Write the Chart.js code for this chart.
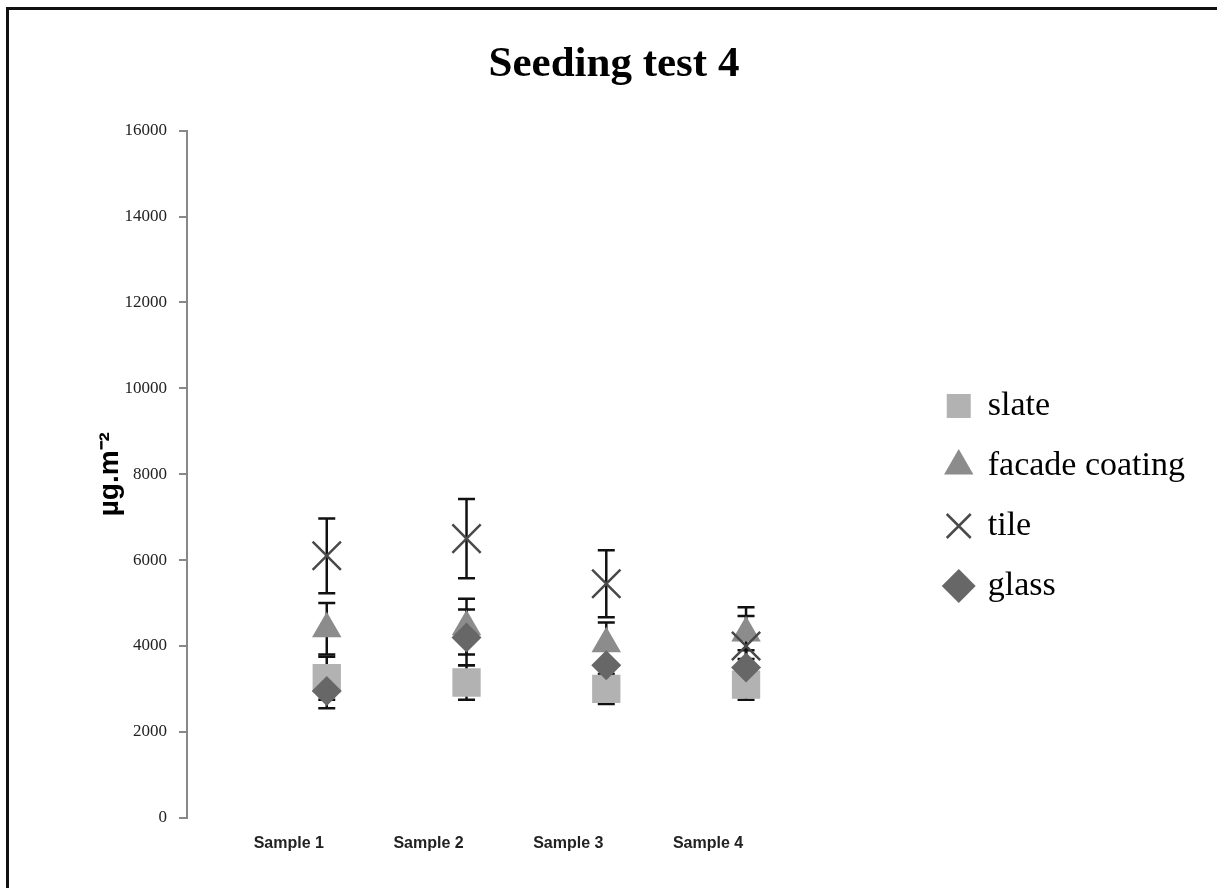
<!DOCTYPE html>
<html>
<head>
<meta charset="utf-8">
<script src="https://cdn.jsdelivr.net/npm/chart.js@4.4.1/dist/chart.umd.min.js"></script>
<style>
  body { margin: 0; background: #fff; }
  #wrap { position: relative; width: 1217px; height: 888px; }
  #frame { position: absolute; left: 6px; top: 7px; right: 0; bottom: 0;
           border-top: 3px solid #111; border-left: 3px solid #111; }
  canvas { position: absolute; left: 0; top: 0; }
</style>
</head>
<body>
<div id="wrap">
  <div id="frame"></div>
  <canvas id="seedChart" width="1217" height="888"></canvas>
</div>
<script>
// Proben (x-Achse)
const samples = ['Sample 1', 'Sample 2', 'Sample 3', 'Sample 4'];
const yTicks = [0, 2000, 4000, 6000, 8000, 10000, 12000, 14000, 16000];

// Mittelwerte je Material (µg.m-2)
const slate = [3250, 3150, 3000, 3100];
const facadeCoating = [4400, 4450, 4050, 4300];
const tile = [6100, 6500, 5450, 4000];
const glass = [2950, 4200, 3550, 3500];

// Fehlerbalken (±)
const slateErr = [500, 400, 350, 350];
const facadeErr = [600, 650, 500, 600];
const tileErr = [870, 920, 780, 700];
const glassErr = [400, 650, 400, 400];

const toPoints = arr => arr.map((v, i) => ({ x: i + 1, y: v }));

// Zeichnet die Fehlerbalken unter die Marker
const errorBars = {
    id: 'errorBars',
    beforeDatasetsDraw(chart) {
        const { ctx, scales: { y } } = chart;
        ctx.save();
        ctx.strokeStyle = '#111';
        ctx.lineWidth = 2.5;
        chart.data.datasets.forEach((ds, i) => {
            const meta = chart.getDatasetMeta(i);
            meta.data.forEach((pt, j) => {
                const e = ds.errors[j];
                const v = ds.data[j].y;
                const top = y.getPixelForValue(v + e);
                const bot = y.getPixelForValue(v - e);
                ctx.beginPath();
                ctx.moveTo(pt.x, top); ctx.lineTo(pt.x, bot);
                ctx.moveTo(pt.x - 8.5, top); ctx.lineTo(pt.x + 8.5, top);
                ctx.moveTo(pt.x - 8.5, bot); ctx.lineTo(pt.x + 8.5, bot);
                ctx.stroke();
            });
        });
        ctx.restore();
    }
};

const ctx = document.getElementById('seedChart').getContext('2d');
const seedChart = new Chart(ctx, {
    type: 'scatter',
    data: {
        datasets: [
            { label: 'slate', data: toPoints(slate), errors: slateErr, order: 4,
              pointStyle: 'rect', pointRadius: 20, backgroundColor: '#b2b2b2', borderColor: '#b2b2b2', borderWidth: 0 },
            { label: 'facade coating', data: toPoints(facadeCoating), errors: facadeErr, order: 3,
              pointStyle: 'triangle', pointRadius: 17, backgroundColor: '#8c8c8c', borderColor: '#8c8c8c', borderWidth: 0 },
            { label: 'tile', data: toPoints(tile), errors: tileErr, order: 2,
              pointStyle: 'crossRot', pointRadius: 20, backgroundColor: '#4a4a4a', borderColor: '#4a4a4a', borderWidth: 2.5 },
            { label: 'glass', data: toPoints(glass), errors: glassErr, order: 1,
              pointStyle: 'rectRot', pointRadius: 15, backgroundColor: '#676767', borderColor: '#676767', borderWidth: 0 }
        ]
    },
    options: {
        responsive: false,
        animation: false,
        layout: { padding: { left: 33, right: 22, top: 0, bottom: 27 } },
        plugins: {
            tooltip: { enabled: false },
            title: {
                display: true,
                text: 'Seeding test 4',
                color: '#000',
                font: { family: 'Liberation Serif', size: 43, weight: 'bold' },
                padding: { top: 39, bottom: 40 }
            },
            legend: {
                position: 'right',
                align: 'start',
                title: { display: true, text: '', font: { size: 10 }, padding: { top: 0, bottom: 351 } },
                labels: {
                    usePointStyle: true,
                    boxWidth: 24,
                    boxHeight: 24,
                    padding: 26,
                    color: '#000',
                    font: { family: 'Liberation Serif', size: 34 },
                    sort: (a, b) => a.datasetIndex - b.datasetIndex
                }
            }
        },
        scales: {
            x: {
                type: 'linear',
                min: 0,
                max: 5.25,
                border: { display: false },
                grid: { display: false },
                afterBuildTicks: axis => { axis.ticks = samples.map((_, i) => ({ value: i + 1 })); },
                ticks: {
                    padding: 8,
                    labelOffset: -38,
                    color: '#222',
                    font: { family: 'Liberation Sans', size: 16, weight: 'bold' },
                    callback: v => samples[v - 1]
                }
            },
            y: {
                min: 0,
                max: 16000,
                afterBuildTicks: axis => { axis.ticks = yTicks.map(v => ({ value: v })); },
                afterFit: axis => { axis.width = 154; },
                border: { display: true, color: '#888', width: 2 },
                grid: { drawOnChartArea: false, drawTicks: true, tickLength: 8, color: '#888', lineWidth: 2 },
                ticks: {
                    padding: 12,
                    color: '#222',
                    font: { family: 'Liberation Serif', size: 17 },
                    callback: v => String(v)
                },
                title: {
                    display: true,
                    text: 'µg.m⁻²',
                    color: '#000',
                    padding: { top: 60, bottom: 0 },
                    font: { family: 'Liberation Sans', size: 28, weight: 'bold' }
                }
            }
        }
    },
    plugins: [errorBars]
});
</script>
</body>
</html>
